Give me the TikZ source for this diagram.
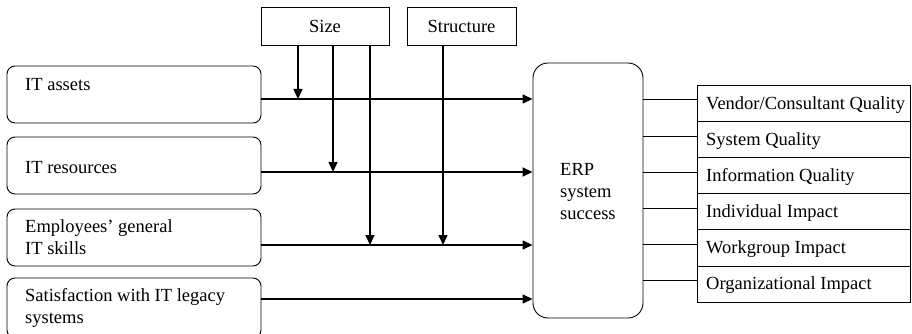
\documentclass[tikz,border=0pt]{standalone}
\usepackage{fontspec}
\setmainfont{Liberation Serif}
\usetikzlibrary{arrows.meta}
\begin{document}
\begin{tikzpicture}[x=1pt,y=-1pt,
  txt/.style={inner sep=0pt,font=\fontsize{18.5}{21.7}\selectfont},
  leftbox/.style={draw,line width=0.9pt,rounded corners=8pt,inner sep=0pt},
  topbox/.style={draw,line width=0.9pt,inner sep=0pt,minimum height=38pt},
  rowbox/.style={draw,line width=0.9pt,inner sep=0pt,minimum width=213pt,minimum height=36.2pt},
  arr/.style={line width=1.5pt,-{Triangle[length=10pt,width=9pt]}},
  thin/.style={line width=0.9pt}]
\useasboundingbox (0,0) rectangle (912,334);

% input constructs
\node[leftbox,minimum width=254pt,minimum height=57pt] (assets) at (134,94.5) {};
\node[leftbox,minimum width=254pt,minimum height=57pt] (resources) at (134,165.5) {};
\node[leftbox,minimum width=254pt,minimum height=57pt] (skills) at (134,237.5) {};
\node[leftbox,minimum width=254pt,minimum height=60pt] (legacy) at (134,308) {};

% multi-line texts are placed by the baseline of their last line
\node[txt,anchor=base west] (tassets) at (25,91) {IT assets};
\node[txt,anchor=base west] (tresources) at (25,173) {IT resources};
\node[txt,anchor=base west,align=left] (tskills) at (25,254.5) {Employees' general\\IT skills};
\node[txt,anchor=base west,align=left] (tlegacy) at (25,323.5) {Satisfaction with IT legacy\\systems};

% moderators
\node[topbox,minimum width=128pt] (size) at (325,26) {};
\node[topbox,minimum width=109pt] (structure) at (461.5,26) {};
\node[txt,anchor=base] (tsize) at (325,33) {Size};
\node[txt,anchor=base] (tstructure) at (461.5,33) {Structure};

% outcome
\node[draw,line width=0.9pt,rounded corners=15pt,minimum width=110pt,minimum height=255pt,inner sep=0pt] (erp) at (588,190.5) {};
\node[txt,anchor=base west,align=left] (terp) at (560,219) {ERP\\system\\success};

% success dimensions
\node[rowbox] (r1) at (803.5,103.1) {};
\node[rowbox] (r2) at (803.5,139.3) {};
\node[rowbox] (r3) at (803.5,175.5) {};
\node[rowbox] (r4) at (803.5,211.7) {};
\node[rowbox] (r5) at (803.5,247.9) {};
\node[rowbox] (r6) at (803.5,284.1) {};
\node[txt,anchor=base west] (t1) at (706,110) {Vendor/Consultant Quality};
\node[txt,anchor=base west] (t2) at (706,145.5) {System Quality};
\node[txt,anchor=base west] (t3) at (706,181.5) {Information Quality};
\node[txt,anchor=base west] (t4) at (706,217.5) {Individual Impact};
\node[txt,anchor=base west] (t5) at (706,253.5) {Workgroup Impact};
\node[txt,anchor=base west] (t6) at (706,289.5) {Organizational Impact};

% levels of the horizontal links and the moderator drops
\coordinate (h1) at (0,99);
\coordinate (h2) at (0,172);
\coordinate (h3) at (0,245);
\coordinate (h4) at (0,299);
\coordinate (v1) at (298,0);
\coordinate (v2) at (333,0);
\coordinate (v3) at (370,0);
\coordinate (v4) at (443,0);

\draw[arr] (assets.east |- h1) -- (erp.west |- h1);
\draw[arr] (resources.east |- h2) -- (erp.west |- h2);
\draw[arr] (skills.east |- h3) -- (erp.west |- h3);
\draw[arr] (legacy.east |- h4) -- (erp.west |- h4);

\draw[arr] (size.south -| v1) -- (v1 |- h1);
\draw[arr] (size.south -| v2) -- (v2 |- h2);
\draw[arr] (size.south -| v3) -- (v3 |- h3);
\draw[arr] (structure.south -| v4) -- (v4 |- h3);

% links from the outcome to its dimensions
\foreach \r in {1,...,6} {
  \coordinate (c\r) at ([yshift=3.3pt]r\r.west);
  \draw[thin] (erp.east |- c\r) -- (c\r);
}
\end{tikzpicture}
\end{document}
